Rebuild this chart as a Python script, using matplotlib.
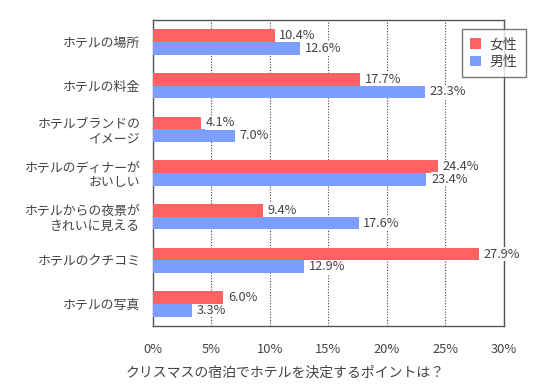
import matplotlib
matplotlib.use("Agg")
import matplotlib.pyplot as plt
import numpy as np

plt.rcParams['font.family'] = ['Noto Sans CJK JP', 'DejaVu Sans']

categories = ["ホテルの場所", "ホテルの料金", "ホテルブランドの\nイメージ",
              "ホテルのディナーが\nおいしい", "ホテルからの夜景が\nきれいに見える",
              "ホテルのクチコミ", "ホテルの写真"]
female = [10.4, 17.7, 4.1, 24.4, 9.4, 27.9, 6.0]
male = [12.6, 23.3, 7.0, 23.4, 17.6, 12.9, 3.3]
series_names = ["女性", "男性"]
xticks = [0, 5, 10, 15, 20, 25, 30]
xlabel = "クリスマスの宿泊でホテルを決定するポイントは？"

red = "#FF6262"
blue = "#7B9EFF"
txt = "#444444"
spine_c = "#555555"

fig = plt.figure(figsize=(5.41, 3.86), dpi=100)
ax = fig.add_axes([153/541, 60/386, 350.5/541, 306/386])

y = np.arange(len(categories))
h = 0.29
b1 = ax.barh(y - h/2, female, height=h, color=red, label=series_names[0], zorder=3)
b2 = ax.barh(y + h/2, male, height=h, color=blue, label=series_names[1], zorder=3)

for bars, vals in ((b1, female), (b2, male)):
    for bar, v in zip(bars, vals):
        ax.text(bar.get_width() + 0.4, bar.get_y() + bar.get_height()/2,
                f"{v:.1f}%", va='center', ha='left', fontsize=9.2, color=txt, zorder=4,
                bbox=dict(facecolor='white', edgecolor='none', pad=0.3))

ax.set_xlim(0, 30)
ax.set_ylim(len(categories) - 0.5, -0.5)
ax.set_yticks(y)
ax.set_yticklabels(categories, fontsize=9.3, color=txt, linespacing=1.15)
ax.set_xticks(xticks)
ax.set_xticklabels([f"{t}%" for t in xticks], fontsize=9.3, color=txt)
ax.tick_params(axis='both', length=0)
ax.tick_params(axis='y', pad=9)
ax.tick_params(axis='x', pad=12)

ax.grid(axis='x', linestyle=(0, (1, 1.5)), color='#444444', linewidth=0.8, zorder=0)
for s in ax.spines.values():
    s.set_color(spine_c)
    s.set_linewidth(1.0)

leg = ax.legend(loc='upper left', bbox_to_anchor=(462/541, 1 - 29/386),
                bbox_transform=fig.transFigure, frameon=True, fancybox=False,
                fontsize=10, handlelength=0.8, handleheight=0.8, handletextpad=0.6,
                borderpad=0.6, labelspacing=0.25, borderaxespad=0)
leg.get_frame().set_edgecolor(spine_c)
leg.get_frame().set_linewidth(1.0)
for t in leg.get_texts():
    t.set_color(txt)

fig.text(285/541, 1 - 373/386, xlabel, ha='center', va='center', fontsize=10, color=txt)

fig.savefig("out.png", dpi=100)
